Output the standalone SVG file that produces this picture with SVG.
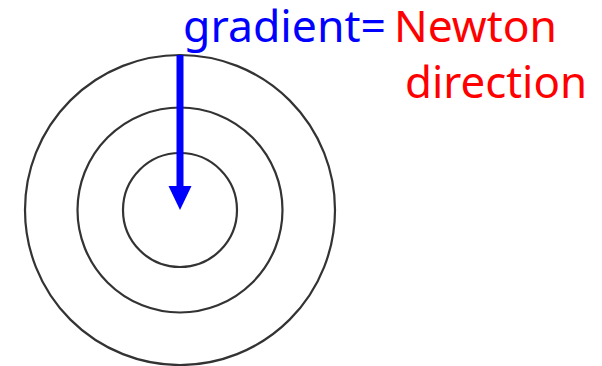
<svg xmlns="http://www.w3.org/2000/svg" width="602" height="366" viewBox="0 0 602 366">
<style>
.ring{fill:none;stroke:#333333;stroke-width:2.2}
.lbl{font-family:"Noto Sans","Open Sans",sans-serif;font-size:43px}
.blue{fill:#0000FF}
.red{fill:#FF0000}
</style>
<rect width="602" height="366" fill="#ffffff"/>
<g id="contours">
<circle id="outer" class="ring" cx="180" cy="210" r="155"/>
<circle id="middle" class="ring" cx="180" cy="210" r="102.5"/>
<circle id="inner" class="ring" cx="180" cy="210" r="57"/>
</g>
<g id="connectors">
<rect x="176.5" y="55" width="7" height="132" fill="#0000FF"/>
<polygon points="168.5,186 191.5,186 180,210" fill="#0000FF"/>
</g>
<g id="label">
<text class="lbl blue" x="183" y="42" textLength="203" lengthAdjust="spacingAndGlyphs">gradient=</text>
<text class="lbl red" x="394" y="42" textLength="163" lengthAdjust="spacingAndGlyphs">Newton</text>
<text class="lbl red" x="405" y="98" textLength="182" lengthAdjust="spacingAndGlyphs">direction</text>
</g>
</svg>
